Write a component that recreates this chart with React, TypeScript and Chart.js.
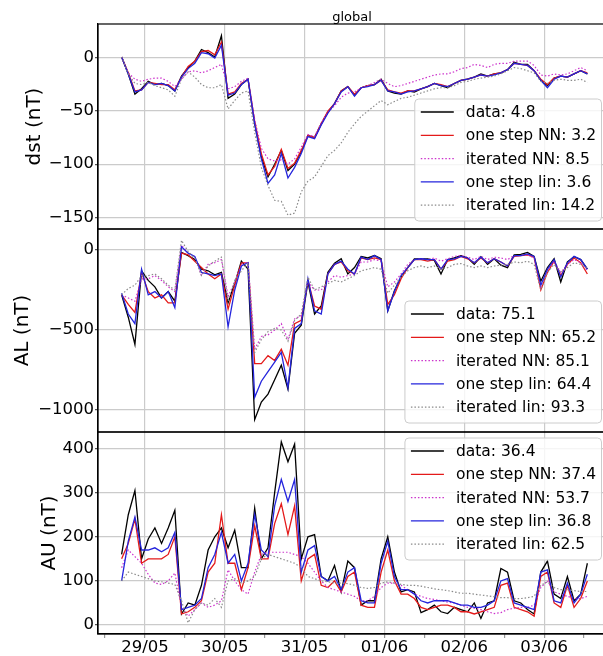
import React, { useEffect, useRef } from 'react';
import { Chart, registerables } from 'chart.js';

Chart.register(...registerables);

const FONT = '"DejaVu Sans", "Liberation Sans", sans-serif';

// time axis: hours since 29/05 00:00, sampled every 2 h
const HOURS = Array.from({ length: 71 }, (_, i) => -7 + 2 * i);
const DAY_TICKS = [0, 24, 48, 72, 96, 120];
const DAY_LABELS = ['29/05', '30/05', '31/05', '01/06', '02/06', '03/06'];
const HALF_DAY_TICKS = [-12, 12, 36, 60, 84, 108, 132];

const SERIES_NAMES = ['data', 'one step NN', 'iterated NN', 'one step lin', 'iterated lin'];
const DST_SCORES = [4.8, 3.2, 8.5, 3.6, 14.2];
const AL_SCORES = [75.1, 65.2, 85.1, 64.4, 93.3];
const AU_SCORES = [36.4, 37.4, 53.7, 36.8, 62.5];

const DST_TICKS = [0, -50, -100, -150];
const AL_TICKS = [0, -500, -1000];
const AU_TICKS = [0, 100, 200, 300, 400];

// ---- dst (nT)
const DST_DATA = [1, -15, -34, -29, -22, -25, -24, -26, -31, -17, -9, -3, 8, 5, 1, 21, -38, -34, -25, -20, -62, -93, -112, -100, -87, -106, -100, -88, -73, -75, -62, -51, -43, -31, -27, -35, -28, -26, -25, -20, -31, -33, -34, -31, -32, -29, -27, -24, -26, -28, -24, -21, -20, -18, -15, -17, -15, -14, -11, -4, -6, -6, -12, -21, -26, -19, -17, -18, -15, -12, -15];
const DST_NN1 = [1, -14, -31, -30, -23, -24, -25, -25, -30, -18, -8, -3, 6, 7, 3, 15, -34, -32, -24, -20, -60, -90, -110, -102, -86, -104, -99, -87, -73, -75, -62, -50, -43, -31, -27, -34, -28, -26, -25, -21, -30, -32, -33, -31, -31, -29, -27, -24, -25, -27, -24, -21, -20, -18, -16, -17, -15, -14, -11, -5, -6, -7, -12, -20, -25, -19, -17, -18, -15, -12, -14];
const DST_NNIT = [1, -14, -20, -22, -20, -19, -19, -22, -27, -20, -13, -12, -14, -12, -9, -6, -29, -27, -22, -19, -58, -85, -95, -97, -96, -100, -95, -84, -72, -74, -61, -51, -45, -37, -33, -32, -28, -26, -23, -20, -24, -27, -26, -24, -22, -20, -18, -16, -15, -15, -13, -10, -9, -6, -7, -9, -6, -5, -5, -3, -3, -3, -7, -16, -17, -15, -16, -15, -12, -9, -12];
const DST_LIN1 = [1, -15, -32, -30, -23, -25, -24, -26, -31, -18, -10, -5, 5, 4, 0, 12, -35, -33, -25, -20, -62, -95, -118, -110, -90, -113, -103, -90, -74, -76, -63, -52, -43, -32, -27, -36, -28, -27, -25, -21, -31, -32, -34, -32, -31, -29, -27, -24, -26, -27, -24, -21, -20, -18, -16, -17, -16, -14, -11, -5, -6, -7, -12, -21, -28, -20, -17, -18, -15, -12, -15];
const DST_LINIT = [1, -15, -24, -25, -23, -26, -28, -30, -36, -20, -13, -18, -25, -28, -28, -25, -48, -40, -33, -31, -70, -103, -120, -134, -135, -148, -146, -126, -116, -112, -102, -92, -87, -80, -70, -62, -55, -50, -45, -40, -44, -41, -38, -37, -35, -33, -31, -29, -28, -28, -26, -23, -22, -20, -19, -18, -17, -15, -12, -9, -10, -12, -14, -22, -24, -21, -20, -21, -21, -20, -23];

// ---- AL (nT)
const AL_DATA = [-280, -420, -590, -130, -190, -230, -300, -260, -320, -15, -35, -60, -120, -130, -155, -140, -330, -210, -70, -120, -1060, -950, -900, -810, -720, -870, -520, -470, -200, -400, -350, -140, -83, -55, -150, -110, -40, -50, -35, -55, -380, -255, -170, -110, -55, -55, -55, -65, -150, -60, -50, -35, -50, -90, -42, -90, -55, -95, -110, -30, -28, -15, -40, -195, -110, -55, -200, -75, -42, -60, -120];
const AL_NN1 = [-280, -340, -390, -140, -260, -300, -280, -330, -330, -20, -30, -70, -110, -150, -180, -150, -370, -220, -80, -80, -710, -710, -660, -690, -620, -720, -460, -440, -190, -350, -370, -150, -90, -75, -130, -150, -50, -60, -50, -60, -340, -280, -180, -110, -60, -60, -70, -60, -120, -70, -60, -40, -55, -80, -50, -80, -55, -75, -100, -40, -35, -30, -45, -250, -140, -70, -160, -90, -50, -80, -150];
const AL_NNIT = [-280, -300, -320, -180, -180, -160, -190, -230, -260, 30, -20, -40, -160, -90, -80, -60, -290, -200, -90, -75, -620, -540, -530, -500, -460, -560, -430, -410, -200, -250, -250, -200, -160, -170, -160, -150, -75, -75, -60, -70, -230, -200, -150, -90, -60, -55, -60, -50, -70, -55, -40, -35, -45, -60, -40, -60, -45, -50, -60, -35, -35, -30, -50, -230, -130, -70, -140, -90, -60, -80, -130];
const AL_LIN1 = [-270, -400, -460, -120, -280, -260, -300, -260, -360, 20, -20, -40, -140, -150, -160, -150, -480, -250, -100, -80, -920, -820, -760, -700, -640, -860, -490, -460, -180, -380, -400, -150, -90, -70, -120, -150, -45, -60, -35, -60, -380, -260, -160, -110, -60, -55, -60, -60, -120, -60, -55, -40, -50, -80, -45, -80, -55, -75, -100, -35, -35, -25, -40, -220, -120, -60, -170, -80, -40, -60, -120];
const AL_LINIT = [-280, -240, -220, -160, -160, -150, -180, -220, -250, 60, -10, -50, -160, -100, -70, -45, -320, -190, -130, -80, -640, -560, -510, -490, -500, -570, -440, -400, -170, -250, -230, -210, -190, -200, -180, -160, -130, -120, -110, -120, -270, -220, -170, -130, -110, -100, -110, -100, -120, -110, -90, -85, -100, -110, -100, -110, -100, -95, -90, -75, -80, -70, -90, -250, -140, -90, -140, -110, -80, -90, -115];

// ---- AU (nT)
const AU_DATA = [160, 250, 305, 150, 195, 220, 185, 220, 260, 25, 50, 45, 90, 170, 200, 220, 175, 215, 130, 130, 265, 150, 175, 300, 415, 370, 410, 150, 200, 205, 110, 100, 135, 75, 145, 130, 45, 55, 55, 150, 200, 120, 75, 80, 75, 28, 35, 45, 30, 26, 40, 35, 30, 50, 15, 50, 55, 128, 120, 55, 50, 35, 25, 120, 145, 70, 60, 110, 55, 70, 140];
const AU_NN1 = [150, 185, 240, 140, 150, 150, 150, 160, 200, 25, 30, 40, 55, 120, 140, 250, 140, 140, 80, 130, 225, 150, 150, 230, 275, 205, 270, 100, 150, 160, 90, 85, 100, 75, 110, 120, 45, 40, 40, 120, 170, 100, 70, 70, 60, 40, 35, 40, 45, 45, 40, 30, 30, 25, 30, 35, 40, 90, 95, 40, 35, 30, 20, 110, 120, 50, 40, 90, 40, 60, 100];
const AU_NNIT = [130, 170, 155, 140, 115, 95, 92, 100, 118, 40, 20, 35, 50, 40, 45, 55, 125, 100, 80, 70, 120, 160, 165, 165, 165, 165, 160, 155, 140, 120, 100, 85, 80, 75, 70, 65, 55, 55, 65, 85, 95, 95, 90, 80, 70, 65, 60, 58, 55, 52, 50, 45, 40, 38, 35, 30, 26, 28, 35, 38, 40, 40, 45, 85, 100, 75, 70, 65, 60, 60, 65];
const AU_LIN1 = [100, 190, 245, 170, 170, 175, 166, 175, 210, 35, 40, 45, 60, 130, 160, 210, 140, 160, 100, 140, 250, 170, 155, 270, 330, 280, 330, 120, 170, 180, 110, 100, 110, 80, 120, 130, 55, 50, 50, 140, 190, 110, 80, 80, 70, 55, 50, 55, 55, 55, 50, 45, 45, 40, 40, 45, 55, 100, 105, 50, 45, 40, 35, 120, 125, 55, 50, 95, 50, 70, 115];
const AU_LINIT = [100, 120, 115, 110, 105, 100, 98, 95, 92, 55, 5, 35, 50, 45, 60, 40, 100, 105, 95, 100, 110, 150, 160, 155, 150, 145, 140, 130, 110, 105, 100, 98, 95, 95, 94, 90, 85, 83, 85, 95, 98, 95, 92, 90, 90, 88, 85, 82, 80, 78, 75, 72, 72, 70, 68, 66, 64, 62, 62, 60, 60, 62, 65, 90, 98, 85, 80, 80, 78, 76, 76];

const STYLES = [
  { color: '#000000', dash: [] as number[], width: 1.3 },
  { color: '#e41a1a', dash: [] as number[], width: 1.3 },
  { color: '#cc33cc', dash: [1.5, 2], width: 1.2 },
  { color: '#2424dc', dash: [] as number[], width: 1.3 },
  { color: '#8a8a8a', dash: [1.5, 2], width: 1.2 },
];

const fmt = (v: number) => (v < 0 ? '\u2212' + Math.abs(v) : String(v));

function makeDatasets(series: number[][], axis: string) {
  return series.map((vals, k) => ({
    label: SERIES_NAMES[k],
    data: vals.map((y, i) => ({ x: HOURS[i], y })),
    yAxisID: axis,
    borderColor: STYLES[k].color,
    borderWidth: STYLES[k].width,
    borderDash: STYLES[k].dash,
    pointRadius: 0,
    tension: 0,
    fill: false,
    order: 4 - k,
  }));
}

function yAxis(min: number, max: number, ticks: number[], weight: number, title: string, titlePad: number) {
  return {
    type: 'linear',
    position: 'left',
    stack: 'panels',
    stackWeight: weight,
    min,
    max,
    afterBuildTicks: (s: any) => {
      s.ticks = ticks.map((v) => ({ value: v }));
    },
    afterFit: (s: any) => {
      s.width = 98;
    },
    ticks: {
      font: { family: FONT, size: 16.5 },
      color: '#000',
      padding: 1,
      callback: (v: any) => fmt(Number(v)),
    },
    grid: { color: '#cbcbcb', lineWidth: 1.2, tickLength: 3, tickColor: '#555' },
    border: { display: true, color: '#000', width: 1.2 },
    title: {
      display: true,
      text: title,
      color: '#000',
      font: { family: FONT, size: 20 },
      padding: { top: titlePad, bottom: 0 },
    },
  };
}

function drawLegend(ctx: CanvasRenderingContext2D, scores: number[], top: number, right: number) {
  ctx.save();
  ctx.font = `15.5px ${FONT}`;
  const labels = SERIES_NAMES.map((n, k) => `${n}: ${scores[k].toFixed(1)}`);
  const tw = Math.max(...labels.map((l) => ctx.measureText(l).width));
  const w = 51 + tw + 5.5;
  const h = 122;
  const left = right - w;
  ctx.beginPath();
  (ctx as any).roundRect(left, top, w, h, 4);
  ctx.fillStyle = 'rgba(255,255,255,0.8)';
  ctx.fill();
  ctx.strokeStyle = '#cccccc';
  ctx.lineWidth = 1;
  ctx.stroke();
  ctx.textBaseline = 'middle';
  ctx.textAlign = 'left';
  labels.forEach((lab, k) => {
    const y = top + 13 + k * 23.3;
    ctx.beginPath();
    ctx.setLineDash(STYLES[k].dash);
    ctx.strokeStyle = STYLES[k].color;
    ctx.lineWidth = STYLES[k].width;
    ctx.moveTo(left + 6, y);
    ctx.lineTo(left + 39, y);
    ctx.stroke();
    ctx.setLineDash([]);
    ctx.fillStyle = '#000';
    ctx.fillText(lab, left + 51, y + 1);
  });
  ctx.restore();
}

const framePlugin = {
  id: 'frames',
  afterDraw(chart: any) {
    const { ctx, chartArea, scales } = chart;
    const { left, right } = chartArea;
    ctx.save();
    ctx.strokeStyle = '#000';
    ctx.lineWidth = 1.2;
    ['yDst', 'yAL', 'yAU'].forEach((id) => {
      const s = scales[id];
      ctx.strokeRect(left, s.top, right - left, s.bottom - s.top);
    });
    ctx.fillStyle = '#000';
    ctx.font = `13px ${FONT}`;
    ctx.textAlign = 'center';
    ctx.textBaseline = 'alphabetic';
    ctx.fillText('global', (left + right) / 2, 21);
    ctx.restore();

    const legRight = 601.5;
    drawLegend(ctx, DST_SCORES, scales.yDst.bottom - 8 - 122, legRight);
    drawLegend(ctx, AL_SCORES, scales.yAL.bottom - 9 - 122, legRight);
    drawLegend(ctx, AU_SCORES, scales.yAU.top + 6, legRight);
  },
};

export default function App() {
  const ref = useRef<HTMLCanvasElement | null>(null);
  useEffect(() => {
    if (!ref.current) return;
    const datasets = [
      ...makeDatasets([DST_DATA, DST_NN1, DST_NNIT, DST_LIN1, DST_LINIT], 'yDst'),
      ...makeDatasets([AL_DATA, AL_NN1, AL_NNIT, AL_LIN1, AL_LINIT], 'yAL'),
      ...makeDatasets([AU_DATA, AU_NN1, AU_NNIT, AU_LIN1, AU_LINIT], 'yAU'),
    ];
    const chart = new Chart(ref.current, {
      type: 'line',
      data: { datasets } as any,
      options: {
        responsive: false,
        animation: false,
        layout: { padding: { top: 24, right: 4, left: 0, bottom: 0 } },
        plugins: { legend: { display: false }, tooltip: { enabled: false }, title: { display: false } },
        scales: {
          x: {
            type: 'linear',
            min: -14.1,
            max: 138.6,
            afterBuildTicks: (s: any) => {
              s.ticks = [...DAY_TICKS, ...HALF_DAY_TICKS].sort((a, b) => a - b).map((v) => ({ value: v }));
            },
            afterFit: (s: any) => {
              s.height = 22;
            },
            ticks: {
              font: { family: FONT, size: 16.5 },
              color: '#000',
              padding: 0,
              maxRotation: 0,
              autoSkip: false,
              callback: (v: any) => {
                const k = DAY_TICKS.indexOf(Number(v));
                return k >= 0 ? DAY_LABELS[k] : '';
              },
            },
            grid: {
              color: (c: any) => (c.tick && DAY_TICKS.includes(c.tick.value) ? '#cbcbcb' : 'rgba(0,0,0,0)'),
              lineWidth: 1.2,
              tickLength: 4,
              tickColor: '#999',
            },
            border: { display: true, color: '#000', width: 1.2 },
          },
          // stacked scales are laid out bottom-up in definition order
          yAU: yAxis(-20.4, 437.6, AU_TICKS, 202, 'AU (nT)', 38),
          yAL: yAxis(-1137, 131, AL_TICKS, 203, 'AL (nT)', 10.7),
          yDst: yAxis(-161, 32, DST_TICKS, 205, 'dst (nT)', 22.7),
        } as any,
      },
      plugins: [framePlugin],
    });
    return () => chart.destroy();
  }, []);
  return (
    <div style={{ position: 'absolute', left: 0, top: 0, width: 603, height: 656, overflow: 'hidden', background: '#fff' }}>
      <canvas ref={ref} width={610} height={656} style={{ width: 610, height: 656, display: 'block' }} />
    </div>
  );
}
